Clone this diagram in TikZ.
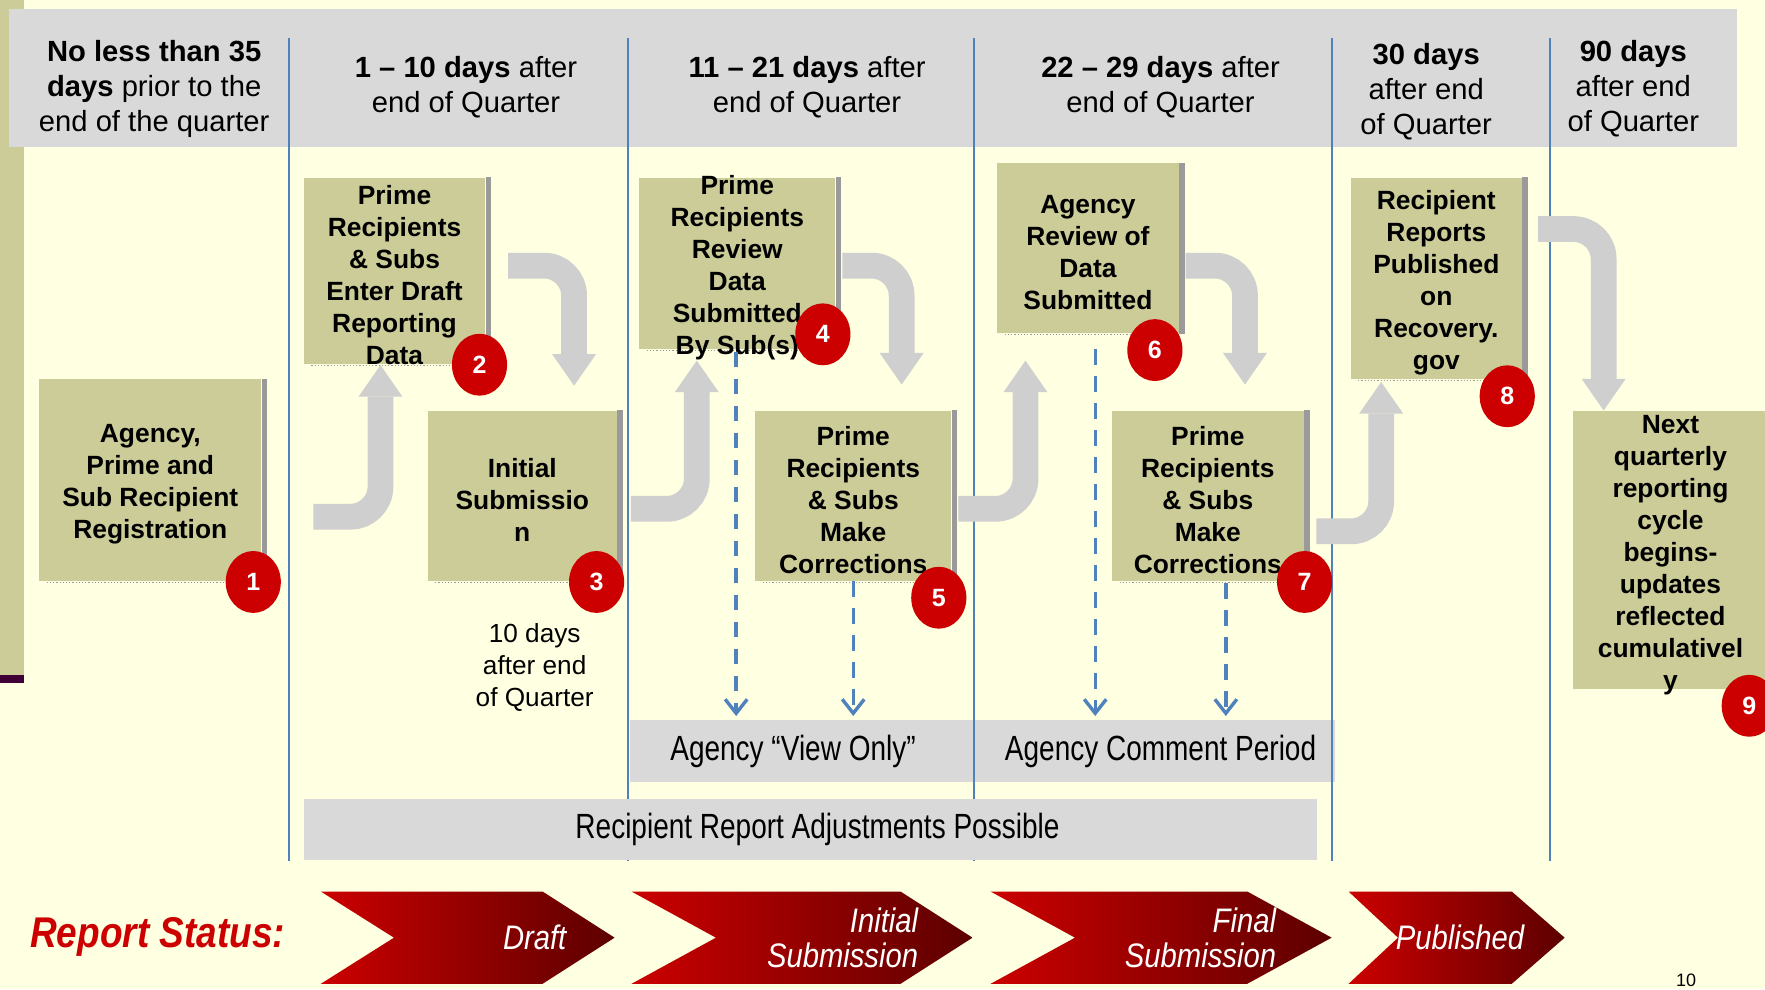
\documentclass[tikz,border=0pt]{standalone}
\usepackage{fontspec}
\setmainfont{Liberation Sans}
\newfontfamily\narrowfont[FakeStretch=0.8]{Liberation Sans}
\newfontfamily\chevfont[FakeStretch=0.86]{Liberation Sans}
\usepackage{tikz}
\usetikzlibrary{
  positioning,
  shapes.geometric,
  arrows.meta,
  calc
}
\definecolor{bgyellow}{HTML}{FFFFE1}
\definecolor{olive}{HTML}{CCCC99}
\definecolor{headgray}{HTML}{D9D9D9}
\definecolor{divblue}{HTML}{4F81BD}
\definecolor{badgered}{HTML}{CC0000}
\definecolor{arrgray}{HTML}{CFCFCF}
\definecolor{shadegray}{HTML}{9A9A9A}
\definecolor{chevred}{HTML}{CC0000}
\definecolor{chevdark}{HTML}{5C0000}
\definecolor{darkplum}{HTML}{3F0036}

\newcommand{\pxu}{0.5629pt}

\tikzset{
  stepbox/.style={fill=olive, inner sep=0pt},
  boxtxt/.style={align=center, inner sep=0pt, yshift=-2pt, font=\fontsize{13.2}{16}\selectfont\bfseries},
  headtxt/.style={align=center, inner sep=0pt, yshift=-1.1pt, font=\fontsize{14.6}{17.5}\selectfont},
  badge/.style={ellipse, fill=badgered, text=white, inner sep=0pt,
    minimum width=49*\pxu, minimum height=55*\pxu, font=\fontsize{12.5}{14}\selectfont\bfseries},
  fatarr/.style={draw=arrgray, line width=12.9pt, rounded corners=15pt,
    -{Triangle[width=22pt,length=15.8pt,line width=0pt]}},
  dasharr/.style={draw=divblue, line width=1.7pt, dash pattern=on 7.9pt off 5.6pt,
    -{Straight Barb[length=7pt,width=11pt]}},
  graybar/.style={fill=headgray, inner sep=0pt, font=\narrowfont\fontsize{17.5}{20}\selectfont},
  chevtxt/.style={text=white, inner sep=0pt, font=\chevfont\fontsize{17}{17.5}\selectfont\itshape},
  chevron/.style={left color=chevred, right color=chevdark}
}

\begin{document}
\begin{tikzpicture}[x=0.5629pt,y=-0.5629pt]
    \useasboundingbox (0,0) rectangle (1568,879);
    \fill[bgyellow] (0,0) rectangle (1568,879);
    % left strip and header band
    \fill[olive] (0,0) rectangle (21,600);
    \fill[darkplum] (0,600) rectangle (21,607);
    \fill[headgray] (8,8) rectangle (1543,131);

    \node[headtxt] (h1) at (137,77) {\textbf{No less than 35}\\\textbf{days} prior to the\\end of the quarter};
    \node[headtxt] (h2) at (414,75.5) {\textbf{1 -- 10 days} after\\end of Quarter};
    \node[headtxt] (h3) at (717,75.5) {\textbf{11 -- 21 days} after\\end of Quarter};
    \node[headtxt] (h4) at (1031,75.5) {\textbf{22 -- 29 days} after\\end of Quarter};
    \node[headtxt] (h5) at (1267,79.5) {\textbf{30 days}\\after end\\of Quarter};
    \node[headtxt] (h6) at (1451,77) {\textbf{90 days}\\after end\\of Quarter};

    % agency periods
    \node[graybar, minimum width=305*\pxu, minimum height=55*\pxu] (vo) at (712.5,667.5) {Agency “View Only”\kern9pt};
    \node[graybar, minimum width=321*\pxu, minimum height=55*\pxu] (acp) at (1025.5,667.5) {\hspace{6.2pt}Agency Comment Period};

    \foreach \x in {257,558,865,1183,1377}
      \draw[divblue, line width=0.85pt] (\x,34) -- (\x,765);

    \node[graybar, minimum width=900*\pxu, minimum height=54*\pxu] (adj) at (720,737) {\hspace{7pt}Recipient Report Adjustments Possible};

    % steps
    \node[stepbox, minimum width=197*\pxu, minimum height=179*\pxu] (b1) at (133.5,426.5) {};
    \node[stepbox, minimum width=161*\pxu, minimum height=165*\pxu] (b2) at (350.5,240.5) {};
    \node[stepbox, minimum width=168*\pxu, minimum height=151*\pxu] (b3) at (464,440.5) {};
    \node[stepbox, minimum width=174*\pxu, minimum height=152*\pxu] (b4) at (655,234) {};
    \node[stepbox, minimum width=174*\pxu, minimum height=151*\pxu] (b5) at (758,440.5) {};
    \node[stepbox, minimum width=161*\pxu, minimum height=151*\pxu] (b6) at (966.5,220.5) {};
    \node[stepbox, minimum width=170*\pxu, minimum height=151*\pxu] (b7) at (1073,440.5) {};
    \node[stepbox, minimum width=152*\pxu, minimum height=179*\pxu] (b8) at (1276,247.5) {};
    \node[stepbox, minimum width=176*\pxu, minimum height=247*\pxu] (b9) at (1485,488.5) {};

    \foreach \b in {b1,b2,b3,b4,b5,b6,b7,b8}{
      \fill[shadegray] (\b.north east) rectangle ($(\b.south east)+(5,0)$);
      \draw[shadegray, densely dotted, line width=0.6pt] ($(\b.south west)+(7,1)$) -- ($(\b.south east)+(0,1)$);
    }

    % flow arrows
    \draw[fatarr] ($(b1.east)+(46,32.5)$) -| ($(b2.south)+(-12.5,1)$);
    \draw[fatarr] ($(b2.east)+(20,-4.5)$) -| ($(b3.north)+(46,-22)$);
    \draw[fatarr] ($(b3.east)+(12,11.5)$) -| ($(b4.south)+(-36,10)$);
    \draw[fatarr] ($(b4.east)+(6,2)$) -| ($(b5.north)+(43,-23)$);
    \draw[fatarr] ($(b5.east)+(6,11.5)$) -| ($(b6.south)+(-55.5,24)$);
    \draw[fatarr] ($(b6.east)+(6,15.5)$) -| ($(b7.north)+(33,-23)$);
    \draw[fatarr] ($(b7.east)+(11,31.5)$) -| ($(b8.south)+(-49,2)$);
    \draw[fatarr] ($(b8.east)+(14,-44)$) -| ($(b9.north west)+(28,0)$);

    \node[boxtxt] (t1) at (b1) {Agency,\\Prime and\\Sub Recipient\\Registration};
    \node[boxtxt] (t2) at (b2) {Prime\\Recipients\\\& Subs\\Enter Draft\\Reporting\\Data};
    \node[boxtxt] (t3) at (b3) {Initial\\Submissio\\n};
    \node[boxtxt] (t4) at (b4) {Prime\\Recipients\\Review\\Data\\Submitted\\By Sub(s)};
    \node[boxtxt] (t5) at (b5) {Prime\\Recipients\\\& Subs\\Make\\Corrections};
    \node[boxtxt] (t6) at (b6) {Agency\\Review of\\Data\\Submitted};
    \node[boxtxt] (t7) at (b7) {Prime\\Recipients\\\& Subs\\Make\\Corrections};
    \node[boxtxt] (t8) at (b8) {Recipient\\Reports\\Published\\on\\Recovery.\\gov};
    \node[boxtxt] (t9) at (1484,490) {Next\\quarterly\\reporting\\cycle\\begins-\\updates\\reflected\\cumulativel\\y};

    \node[badge] (n1) at (225,517) {1};
    \node[badge] (n2) at (426,324) {2};
    \node[badge] (n3) at (530,517) {3};
    \node[badge] (n4) at (731,297) {4};
    \node[badge] (n5) at (834,531) {5};
    \node[badge] (n6) at (1026,311) {6};
    \node[badge] (n7) at (1159,517) {7};
    \node[badge] (n8) at (1339,352) {8};
    \node[badge] (n9) at (1554,627) {9};

    % agency views
    \draw[dasharr, shorten >=2pt] ($(b4.south)+(-1,2)$) -- ($(b4.south |- vo.north)+(-1,0)$);
    \draw[dasharr, shorten >=2pt] (b5.south) -- (b5.south |- vo.north);
    \draw[dasharr, shorten >=2pt] ($(b6.south)+(6.5,14)$) -- ($(b6.south |- acp.north)+(6.5,0)$);
    \draw[dasharr, shorten >=2pt] ($(b7.south)+(16,2)$) -- ($(b7.south |- acp.north)+(16,0)$);

    \node[align=center, inner sep=0pt, font=\fontsize{13.1}{15.8}\selectfont] (d10) at (475,593) {10 days\\after end\\of Quarter};

    % report status
    \node[inner sep=0pt, text=badgered, font=\chevfont\fontsize{21.5}{24}\selectfont\bfseries\itshape] (rs) at (140,832) {Report Status:};
    \shade[chevron] (285,792) -- (482,792) -- (546,833) -- (482,874) -- (285,874) -- (350,833) -- cycle;
    \shade[chevron] (561,792) -- (800,792) -- (864,833) -- (800,874) -- (561,874) -- (636,833) -- cycle;
    \shade[chevron] (880,792) -- (1108,792) -- (1183,833) -- (1108,874) -- (880,874) -- (955,833) -- cycle;
    \shade[chevron] (1198,792) -- (1343,792) -- (1390,833) -- (1343,874) -- (1198,874) -- (1242,833) -- cycle;
    \node[chevtxt] (s1) at (475,833) {Draft};
    \node[chevtxt, align=right, anchor=east] (s2) at (816,833.5) {Initial\\Submission};
    \node[chevtxt, align=right, anchor=east] (s3) at (1134,833.5) {Final\\Submission};
    \node[chevtxt] (s4) at (1297,833) {Published};

    \node[inner sep=0pt, anchor=south, font=\fontsize{9}{10}\selectfont] (pg) at (1498,877) {10};
  \end{tikzpicture}
\end{document}
